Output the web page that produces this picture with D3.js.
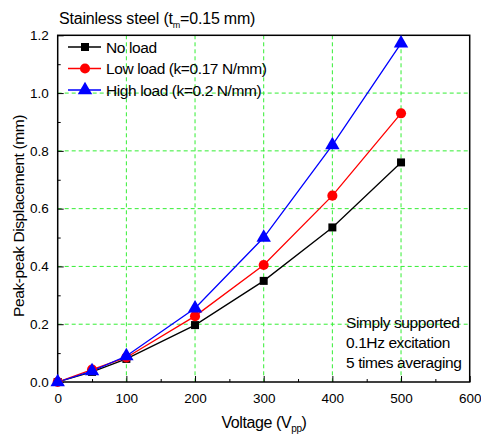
<!DOCTYPE html>
<html><head><meta charset="utf-8">
<script src="https://cdn.jsdelivr.net/npm/d3@7/dist/d3.min.js"></script>
<style>body{margin:0;background:#fff}text{font-family:"Liberation Sans",Arial,sans-serif}</style>
</head><body><svg id="c" width="481" height="439"></svg>
<script>
const voltage = [0, 50, 100, 200, 300, 400, 500];
const noLoad = [0, 0.035, 0.08, 0.197, 0.35, 0.535, 0.76];
const lowLoad = [0, 0.043, 0.085, 0.228, 0.405, 0.645, 0.93];
const highLoad = [0, 0.038, 0.09, 0.255, 0.50, 0.82, 1.172];
const seriesNames = ["No load", "Low load (k=0.17 N/mm)", "High load (k=0.2 N/mm)"];
const xTicks = [0, 100, 200, 300, 400, 500, 600];
const yTicks = [0.0, 0.2, 0.4, 0.6, 0.8, 1.0, 1.2];
const notes = ["Simply supported", "0.1Hz excitation", "5 times averaging"];

const svg = d3.select("#c");
const L = 57.7, R = 469.7, T = 35.3, B = 382;
const x = d3.scaleLinear().domain([0, 600]).range([L, R]);
const y = d3.scaleLinear().domain([0, 1.2]).range([B, T]);

// grid
const g = svg.append("g");
const gridColor = "#33ee33";
g.selectAll(".gx").data(xTicks.filter(d => d > 0 && d < 600)).enter().append("line")
  .attr("x1", d => x(d)).attr("x2", d => x(d)).attr("y1", T).attr("y2", B)
  .attr("stroke", gridColor).attr("stroke-dasharray", "4,3").attr("stroke-width", 1);
g.selectAll(".gy").data(yTicks.filter(d => d > 0 && d < 1.2)).enter().append("line")
  .attr("y1", d => y(d)).attr("y2", d => y(d)).attr("x1", L).attr("x2", R)
  .attr("stroke", gridColor).attr("stroke-dasharray", "4,3").attr("stroke-width", 1);

// axes
const xAxis = d3.axisBottom(x).tickValues(xTicks).tickFormat(d3.format("d")).tickSize(-6).tickPadding(11);
svg.append("g").attr("transform", `translate(0,${B})`).call(xAxis);
svg.append("g").attr("transform", `translate(0,${B})`)
  .call(d3.axisBottom(x).tickValues(d3.range(50, 600, 100)).tickSize(-3).tickFormat(""))
  .call(s => s.select(".domain").remove());
const yAxis = d3.axisLeft(y).tickValues(yTicks).tickFormat(d3.format(".1f")).tickSize(-6).tickPadding(9);
svg.append("g").attr("transform", `translate(${L},0)`).call(yAxis);
svg.append("g").attr("transform", `translate(${L},0)`)
  .call(d3.axisLeft(y).tickValues(d3.range(0.1, 1.2, 0.2)).tickSize(-3).tickFormat(""))
  .call(s => s.select(".domain").remove());
svg.selectAll(".tick text").attr("font-size", 13.5).attr("fill", "#000");
svg.selectAll(".tick line").attr("stroke", "#000");
svg.selectAll(".domain").remove();
svg.append("rect").attr("x", L).attr("y", T).attr("width", R - L).attr("height", B - T)
  .attr("fill", "none").attr("stroke", "#000").attr("stroke-width", 1.5);

// series
const colors = ["#000000", "#ff0000", "#0000ff"];
const all = [noLoad, lowLoad, highLoad];
const line = d3.line().x((d, i) => x(voltage[i])).y(d => y(d));
const shapes = [d3.symbolSquare, d3.symbolCircle, d3.symbolTriangle];
const sizes = [64, 80, 90];
all.forEach((vals, k) => {
  svg.append("path").datum(vals).attr("d", line).attr("fill", "none")
    .attr("stroke", colors[k]).attr("stroke-width", 1.3);
});
all.forEach((vals, k) => {
  svg.selectAll(".m" + k).data(vals).enter().append("path")
    .attr("transform", (d, i) => `translate(${x(voltage[i])},${y(d)})`)
    .attr("d", d3.symbol().type(shapes[k]).size(sizes[k])).attr("fill", colors[k]);
});

// legend
const ly = [47, 68.5, 90];
seriesNames.forEach((n, k) => {
  svg.append("line").attr("x1", 68).attr("x2", 101).attr("y1", ly[k]).attr("y2", ly[k])
    .attr("stroke", colors[k]).attr("stroke-width", 1.3);
  svg.append("path").attr("transform", `translate(85,${ly[k]})`)
    .attr("d", d3.symbol().type(shapes[k]).size(sizes[k])).attr("fill", colors[k]);
  svg.append("text").attr("x", 106).attr("y", ly[k] + 5.5).attr("font-size", 15.5)
    .attr("letter-spacing", -0.4).text(n);
});

// notes
notes.forEach((n, i) => {
  svg.append("text").attr("x", 346).attr("y", 328 + i * 20).attr("font-size", 15.5)
    .attr("letter-spacing", -0.4).text(n);
});

// title
const t = svg.append("text").attr("x", 59).attr("y", 24).attr("font-size", 16).attr("letter-spacing", -0.2);
t.append("tspan").text("Stainless steel (t");
t.append("tspan").attr("font-size", 9).attr("dy", 4).text("m");
t.append("tspan").attr("dy", -4).text("=0.15 mm)");

// axis titles
const xt = svg.append("text").attr("x", 264).attr("y", 428).attr("text-anchor", "middle").attr("font-size", 16).attr("letter-spacing", -0.4);
xt.append("tspan").text("Voltage (V");
xt.append("tspan").attr("font-size", 10).attr("dy", 4).text("pp");
xt.append("tspan").attr("dy", -4).text(")");
svg.append("text").attr("transform", `translate(24,216) rotate(-90)`)
  .attr("text-anchor", "middle").attr("font-size", 15.5).attr("letter-spacing", -0.4)
  .text("Peak-peak Displacement (mm)");
</script></body></html>
